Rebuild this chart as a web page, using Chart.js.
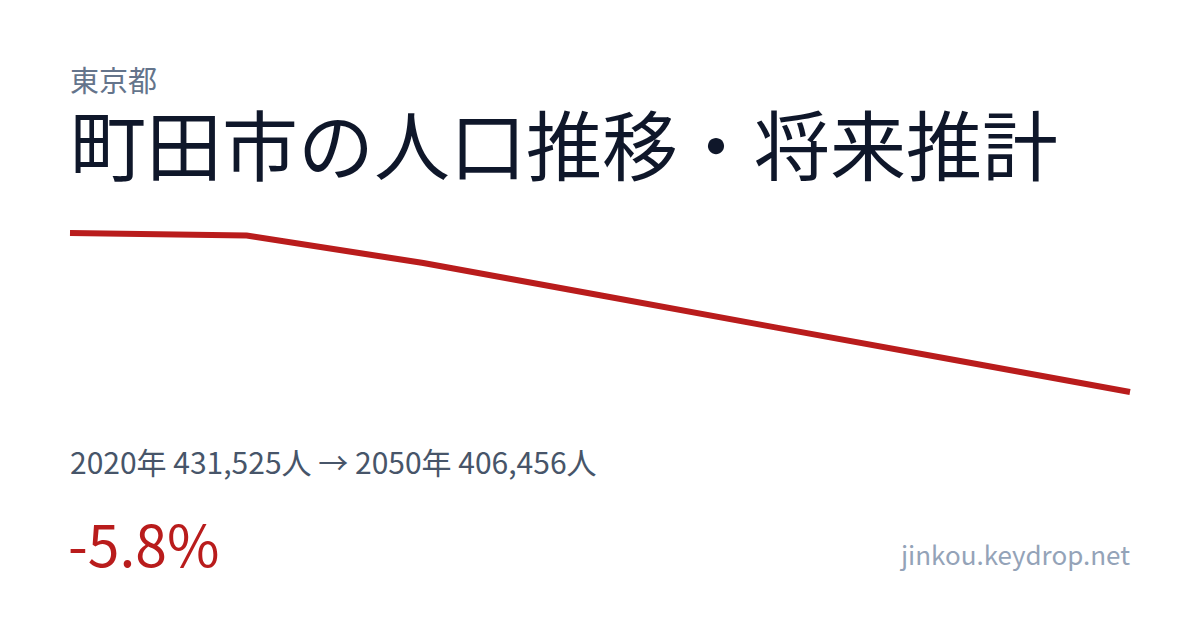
<!DOCTYPE html>
<html lang="ja">
<head>
<meta charset="utf-8">
<script src="https://cdn.jsdelivr.net/npm/chart.js@4.4.1/dist/chart.umd.min.js"></script>
<style>
  html, body { margin:0; padding:0; background:#ffffff; }
  body { width:1200px; height:630px; position:relative; overflow:hidden; font-family:"Noto Sans CJK JP","Noto Sans",sans-serif; }
  .t { position:absolute; line-height:1; white-space:nowrap; }
  #pref { left:70px; top:65px; font-size:29px; color:#64748b; }
  #title { left:70px; top:104px; font-size:76px; color:#0f172a; }
  #summary { left:70px; top:446px; font-size:30px; color:#475569; }
  #change { left:68px; top:514px; font-size:57px; color:#b91c1c; }
  #site { right:70px; top:541px; font-size:26px; color:#94a3b8; }
  #wrap { position:absolute; left:0; top:200px; width:1200px; height:230px; }
</style>
</head>
<body>
<div class="t" id="pref">東京都</div>
<div class="t" id="title">町田市の人口推移・将来推計</div>
<div class="t" id="summary">2020年 431,525人 → 2050年 406,456人</div>
<div class="t" id="change">-5.8%</div>
<div class="t" id="site">jinkou.keydrop.net</div>
<div id="wrap"><canvas id="c"></canvas></div>
<script>
const years = ["2020","2025","2030","2035","2040","2045","2050"];
const population = [431525, 431130, 426800, 421700, 416600, 411550, 406456];

new Chart(document.getElementById('c'), {
  type: 'line',
  data: {
    labels: years,
    datasets: [{
      data: population,
      borderColor: '#b91c1c',
      borderWidth: 6,
      pointRadius: 0,
      pointHoverRadius: 0,
      tension: 0,
      fill: false,
      clip: false,
      borderJoinStyle: 'miter'
    }]
  },
  options: {
    responsive: true,
    maintainAspectRatio: false,
    animation: false,
    events: [],
    layout: { padding: { left: 70, right: 70, top: 33, bottom: 38 } },
    plugins: { legend: { display: false }, tooltip: { enabled: false } },
    scales: {
      x: { display: false, offset: false },
      y: { display: false, min: 406456, max: 431525 }
    }
  }
});
</script>
</body>
</html>
